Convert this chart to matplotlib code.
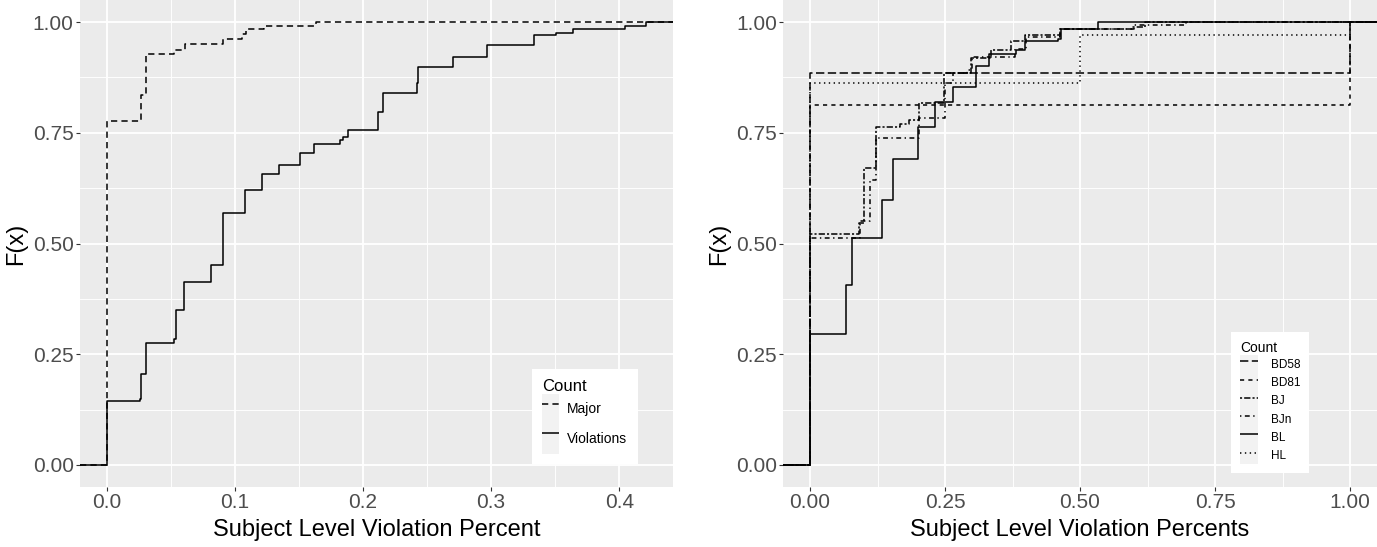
import matplotlib
matplotlib.use("Agg")
import matplotlib.pyplot as plt
from matplotlib.lines import Line2D
from matplotlib.patches import Rectangle
from matplotlib.legend_handler import HandlerLine2D
from matplotlib.ticker import MultipleLocator
from matplotlib import font_manager

# ---- data: ECDF step positions and the F(x) level reached at each step ----
major_x = [0.0, 0.0268, 0.0304, 0.0525, 0.0611, 0.0907, 0.1055, 0.1084, 0.1227, 0.163]
major_F = [0.777, 0.836, 0.928, 0.938, 0.950, 0.962, 0.974, 0.985, 0.992, 1.0]

viol_x = [0.0, 0.026, 0.0268, 0.0304, 0.0525, 0.0538, 0.0605, 0.0811, 0.0907, 0.1079,
          0.1209, 0.1346, 0.151, 0.162, 0.1817, 0.1843, 0.1885, 0.2119, 0.2158, 0.2423,
          0.2431, 0.2701, 0.2969, 0.3331, 0.351, 0.364, 0.4048, 0.4209]
viol_F = [0.144, 0.149, 0.206, 0.276, 0.284, 0.349, 0.413, 0.451, 0.570, 0.620,
          0.656, 0.677, 0.705, 0.725, 0.733, 0.740, 0.756, 0.797, 0.840, 0.863,
          0.899, 0.921, 0.948, 0.971, 0.976, 0.984, 0.992, 1.0]

bd58_x = [0.0, 1.0]
bd58_F = [0.885, 1.0]
bd81_x = [0.0, 1.0]
bd81_F = [0.812, 1.0]
bj_x = [0.0, 0.090, 0.0996, 0.123, 0.167, 0.183, 0.201, 0.249, 0.298, 0.336, 0.373,
        0.398, 0.463, 0.596, 0.621]
bj_F = [0.521, 0.547, 0.671, 0.763, 0.770, 0.778, 0.818, 0.884, 0.919, 0.936, 0.957,
        0.972, 0.985, 0.990, 1.0]
bjn_x = [0.0, 0.093, 0.1107, 0.123, 0.201, 0.250, 0.265, 0.290, 0.300, 0.380, 0.400,
         0.463, 0.600, 0.696]
bjn_F = [0.513, 0.550, 0.643, 0.739, 0.784, 0.862, 0.885, 0.893, 0.922, 0.940, 0.966,
         0.985, 0.993, 1.0]
bl_x = [0.0, 0.067, 0.077, 0.1336, 0.154, 0.200, 0.2306, 0.2657, 0.307, 0.331, 0.382,
        0.399, 0.459, 0.464, 0.533]
bl_F = [0.295, 0.406, 0.513, 0.598, 0.691, 0.763, 0.820, 0.854, 0.901, 0.927, 0.936,
        0.957, 0.963, 0.985, 1.0]
hl_x = [0.0, 0.5, 1.0]
hl_F = [0.862, 0.971, 1.0]

left_labels = ["Major", "Violations"]
right_labels = ["BD58", "BD81", "BJ", "BJn", "BL", "HL"]

# ---- styling ----
names = {f.name for f in font_manager.fontManager.ttflist}
narrow = "Liberation Sans Narrow" if "Liberation Sans Narrow" in names else "Liberation Sans"
plt.rcParams["font.family"] = [narrow, "DejaVu Sans"]
plt.rcParams["lines.scale_dashes"] = False

PANEL = "#EBEBEB"
LW = 1.1
styles = {
    "Major": (4.5, 3.0),
    "Violations": None,
    "BD58": (6.0, 2.5),
    "BD81": (3.0, 3.0),
    "BJ": (1.5, 1.5, 4.5, 1.5),
    "BJn": (1.0, 2.5, 3.5, 2.5),
    "BL": None,
    "HL": (1.0, 2.5),
}


class KeyHandler(HandlerLine2D):
    def create_artists(self, legend, orig_handle, xdescent, ydescent, width, height,
                       fontsize, trans):
        arts = super().create_artists(legend, orig_handle, xdescent, ydescent, width,
                                      height, fontsize, trans)
        bg = Rectangle((-xdescent, -ydescent), width, height, facecolor="#F2F2F2",
                       edgecolor="none", transform=trans)
        return [bg] + arts


def ecdf(ax, xs, fs, name, xlim):
    px = [xlim[0]] + list(xs) + [xlim[1]]
    py = [0.0] + list(fs) + [1.0]
    ln, = ax.step(px, py, where="post", color="black", lw=LW, solid_capstyle="butt")
    if styles[name] is not None:
        ln.set_dashes(styles[name])
    return ln


def style_axes(ax, xlim, xmajor, xfmt, xlabel):
    ax.set_facecolor(PANEL)
    for s in ax.spines.values():
        s.set_visible(False)
    ax.set_xlim(*xlim)
    ax.set_ylim(-0.05, 1.05)
    ax.xaxis.set_major_locator(MultipleLocator(xmajor))
    ax.xaxis.set_minor_locator(MultipleLocator(xmajor / 2))
    ax.yaxis.set_major_locator(MultipleLocator(0.25))
    ax.yaxis.set_minor_locator(MultipleLocator(0.125))
    ax.xaxis.set_major_formatter(xfmt)
    ax.yaxis.set_major_formatter(lambda v, p: f"{v:.2f}")
    ax.grid(which="major", color="white", lw=1.3)
    ax.grid(which="minor", color="white", lw=0.65)
    ax.set_axisbelow(True)
    ax.tick_params(which="major", length=3, width=0.8, color="#333333",
                   labelcolor="#4D4D4D", labelsize=15, pad=1.5)
    ax.tick_params(which="minor", length=0)
    ax.set_xlabel(xlabel, fontsize=17, labelpad=5)
    ax.set_ylabel("F(x)", fontsize=17, labelpad=4)


fig = plt.figure(figsize=(13.77, 5.47), dpi=100)
ax1 = fig.add_axes([80 / 1377, 1 - 487 / 547, 593 / 1377, 487 / 547])
ax2 = fig.add_axes([783 / 1377, 1 - 487 / 547, 594 / 1377, 487 / 547])

# left panel
xl1 = (-0.021, 0.442)
style_axes(ax1, xl1, 0.1, lambda v, p: f"{v:.1f}", "Subject Level Violation Percent")
h_major = ecdf(ax1, major_x, major_F, "Major", xl1)
h_viol = ecdf(ax1, viol_x, viol_F, "Violations", xl1)
leg1 = ax1.legend([h_major, h_viol], left_labels, title="Count", loc="lower left",
                  bbox_to_anchor=(0.75, 0.033), frameon=True, fancybox=False,
                  framealpha=1, edgecolor="none", facecolor="white", fontsize=10,
                  title_fontsize=12, handlelength=1.2, handleheight=2.9,
                  handletextpad=0.6, labelspacing=0.0, borderpad=0.75,
                  alignment="left", handler_map={Line2D: KeyHandler()})
leg1.get_frame().set_linewidth(0)

# right panel
xl2 = (-0.05, 1.05)
style_axes(ax2, xl2, 0.25, lambda v, p: f"{v:.2f}", "Subject Level Violation Percents")
series = [(bd58_x, bd58_F), (bd81_x, bd81_F), (bj_x, bj_F), (bjn_x, bjn_F),
          (bl_x, bl_F), (hl_x, hl_F)]
handles = []
for (xs, fs), name in zip(series, right_labels):
    handles.append(ecdf(ax2, xs, fs, name, xl2))
leg2 = ax2.legend(handles, right_labels, title="Count", loc="lower left",
                  bbox_to_anchor=(0.745, 0.016), frameon=True, fancybox=False,
                  framealpha=1, edgecolor="none", facecolor="white", fontsize=8.5,
                  title_fontsize=10, handlelength=1.5, handleheight=2.0,
                  handletextpad=1.1, labelspacing=0.0, borderpad=0.75,
                  alignment="left", handler_map={Line2D: KeyHandler()})
leg2.get_frame().set_linewidth(0)

fig.savefig("out.png", dpi=100, facecolor="white")
